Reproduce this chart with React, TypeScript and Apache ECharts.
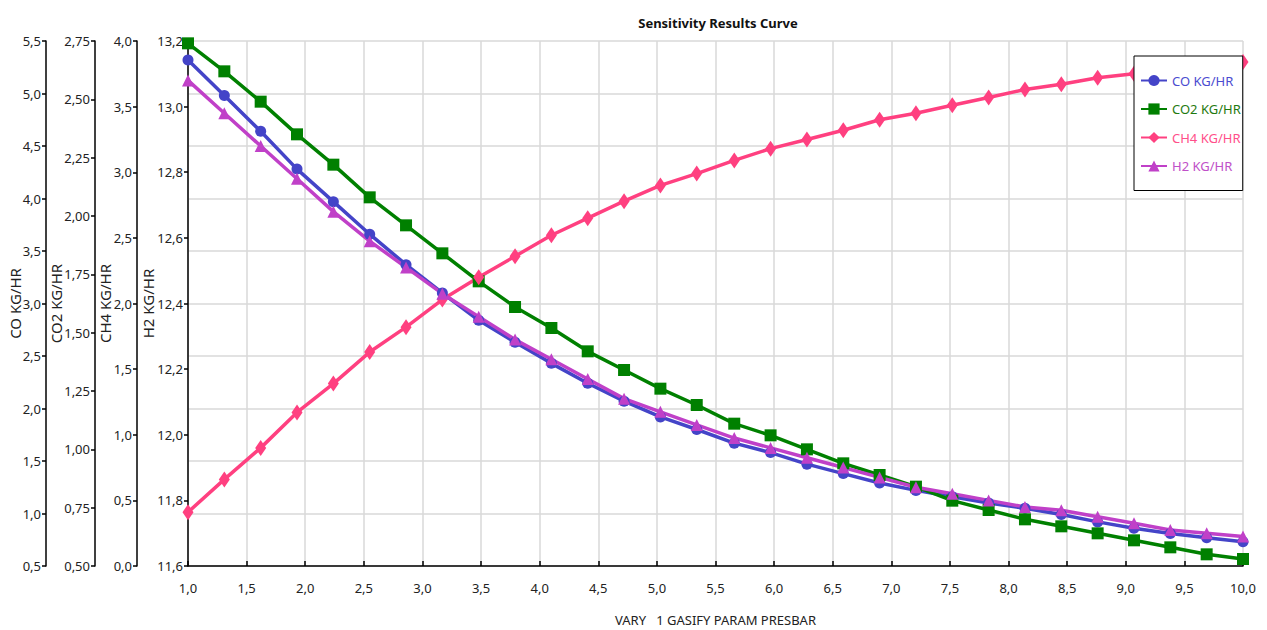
import React, { useEffect, useRef } from "react";
import * as echarts from "echarts";

const FONT = "'Noto Sans', 'Open Sans', sans-serif";

const xValues = [
  1.0, 1.31, 1.62, 1.93, 2.24, 2.55, 2.86, 3.17, 3.48, 3.79,
  4.1, 4.41, 4.72, 5.03, 5.34, 5.66, 5.97, 6.28, 6.59, 6.9,
  7.21, 7.52, 7.83, 8.14, 8.45, 8.76, 9.07, 9.38, 9.69, 10.0,
];

const coValues = [
  5.32, 4.98, 4.64, 4.28, 3.97, 3.66, 3.37, 3.1, 2.84, 2.63,
  2.43, 2.24, 2.07, 1.92, 1.8, 1.67, 1.58, 1.47, 1.38, 1.29,
  1.22, 1.16, 1.1, 1.05, 0.99, 0.92, 0.86, 0.81, 0.77, 0.73,
];

const co2Values = [
  2.74, 2.62, 2.49, 2.35, 2.22, 2.08, 1.96, 1.84, 1.72, 1.61,
  1.52, 1.42, 1.34, 1.26, 1.19, 1.11, 1.06, 1.0, 0.94, 0.89,
  0.84, 0.78, 0.74, 0.7, 0.67, 0.64, 0.61, 0.58, 0.55, 0.53,
];

const ch4Values = [
  0.41, 0.66, 0.9, 1.17, 1.39, 1.63, 1.82, 2.03, 2.2, 2.36,
  2.52, 2.65, 2.78, 2.9, 2.99, 3.09, 3.18, 3.25, 3.32, 3.4,
  3.45, 3.51, 3.57, 3.63, 3.67, 3.72, 3.75, 3.78, 3.81, 3.84,
];

const h2Values = [
  13.08, 12.98, 12.88, 12.78, 12.68, 12.59, 12.51, 12.43, 12.36, 12.29,
  12.23, 12.17, 12.11, 12.07, 12.03, 11.99, 11.96, 11.93, 11.9, 11.87,
  11.84, 11.82, 11.8, 11.78, 11.77, 11.75, 11.73, 11.71, 11.7, 11.69,
];

const seriesNames = ["CO KG/HR", "CO2 KG/HR", "CH4 KG/HR", "H2 KG/HR"];
const seriesColors = ["#4444c8", "#008000", "#ff4080", "#c040c8"];
const legendTextColors = ["#4b4bd0", "#1f7a10", "#ff4f8a", "#c050c8"];
const seriesSymbols = ["circle", "rect", "diamond", "triangle"];

// axis ranges: [min, max, interval, decimals]
const xRange = [1, 10, 0.5, 1];
const coRange = [0.5, 5.5, 0.5, 1];
const co2Range = [0.5, 2.75, 0.25, 2];
const ch4Range = [0, 4, 0.5, 1];
const h2Range = [11.6, 13.2, 0.2, 1];

const fmt = (d: number) => (v: number) => v.toFixed(d).replace(".", ",");

function yAxisOf(range: number[], name: string, offset: number, nameGap: number, grid: boolean) {
  return {
    type: "value",
    position: "left",
    offset,
    min: range[0],
    max: range[1],
    interval: range[2],
    name,
    nameLocation: "middle",
    nameGap,
    nameMoveOverlap: false,
    nameTextStyle: { fontFamily: FONT, fontSize: 15, color: "#222" },
    axisLine: { show: true, onZero: false, lineStyle: { color: "#000", width: 1.5 } },
    axisTick: { show: true, inside: false, length: 4, lineStyle: { color: "#000", width: 1.5 } },
    axisLabel: { formatter: fmt(range[3]), fontFamily: FONT, fontSize: 13, color: "#222", margin: 5 },
    splitLine: { show: grid, lineStyle: { color: "#d9d9d9", width: 1.5 } },
  };
}

export default function App() {
  const ref = useRef<HTMLDivElement>(null);

  useEffect(() => {
    if (!ref.current) return;
    const chart = echarts.init(ref.current, null, { renderer: "svg" });
    const valueSets = [coValues, co2Values, ch4Values, h2Values];
    const symbolSizes: any[] = [11, 12, [11, 16], 12];
    chart.setOption({
      animation: false,
      backgroundColor: "#fff",
      title: {
        text: "Sensitivity Results Curve",
        left: 713,
        top: 11,
        textAlign: "center",
        textStyle: { fontFamily: FONT, fontSize: 13, fontWeight: "bold", color: "#111" },
      },
      grid: {
        left: 188,
        right: 24,
        top: 41,
        bottom: 64,
        containLabel: false,
        outerBoundsMode: "none",
      },
      legend: {
        orient: "vertical",
        left: 1134,
        top: 56,
        backgroundColor: "#fff",
        borderColor: "#000",
        borderWidth: 1,
        padding: [18, 2, 18, 6],
        itemGap: 15.5,
        itemWidth: 26,
        itemHeight: 14,
        textStyle: { fontFamily: FONT, fontSize: 13 },
        data: seriesNames.map((n, i) => ({ name: n, textStyle: { color: legendTextColors[i] } })),
      },
      xAxis: {
        type: "value",
        min: xRange[0],
        max: xRange[1],
        interval: xRange[2],
        name: "VARY   1 GASIFY PARAM PRESBAR",
        nameLocation: "middle",
        nameGap: 47,
        nameMoveOverlap: false,
        nameTextStyle: { fontFamily: FONT, fontSize: 13, color: "#222" },
        axisLine: { onZero: false, lineStyle: { color: "#000", width: 1.5 } },
        axisTick: { inside: true, length: 5, lineStyle: { color: "#000", width: 1.5 } },
        axisLabel: { formatter: fmt(xRange[3]), fontFamily: FONT, fontSize: 13, color: "#222", margin: 15 },
        splitLine: { show: true, lineStyle: { color: "#d9d9d9", width: 1.5 } },
      },
      yAxis: [
        yAxisOf(coRange, "CO KG/HR", 142, 24, true),
        yAxisOf(co2Range, "CO2 KG/HR", 93, 32, false),
        yAxisOf(ch4Range, "CH4 KG/HR", 51, 25, false),
        yAxisOf(h2Range, "H2 KG/HR", 0, 33, false),
      ],
      series: seriesNames.map((n, i) => ({
        name: n,
        type: "line",
        yAxisIndex: i,
        data: xValues.map((x, j) => [x, valueSets[i][j]]),
        symbol: seriesSymbols[i],
        symbolSize: symbolSizes[i],
        showAllSymbol: true,
        clip: false,
        lineStyle: { color: seriesColors[i], width: 3.5 },
        itemStyle: { color: seriesColors[i] },
      })),
    });
    return () => chart.dispose();
  }, []);

  return (
    <div
      ref={ref}
      style={{ position: "absolute", left: 0, top: 0, width: 1267, height: 630, background: "#fff" }}
    />
  );
}
